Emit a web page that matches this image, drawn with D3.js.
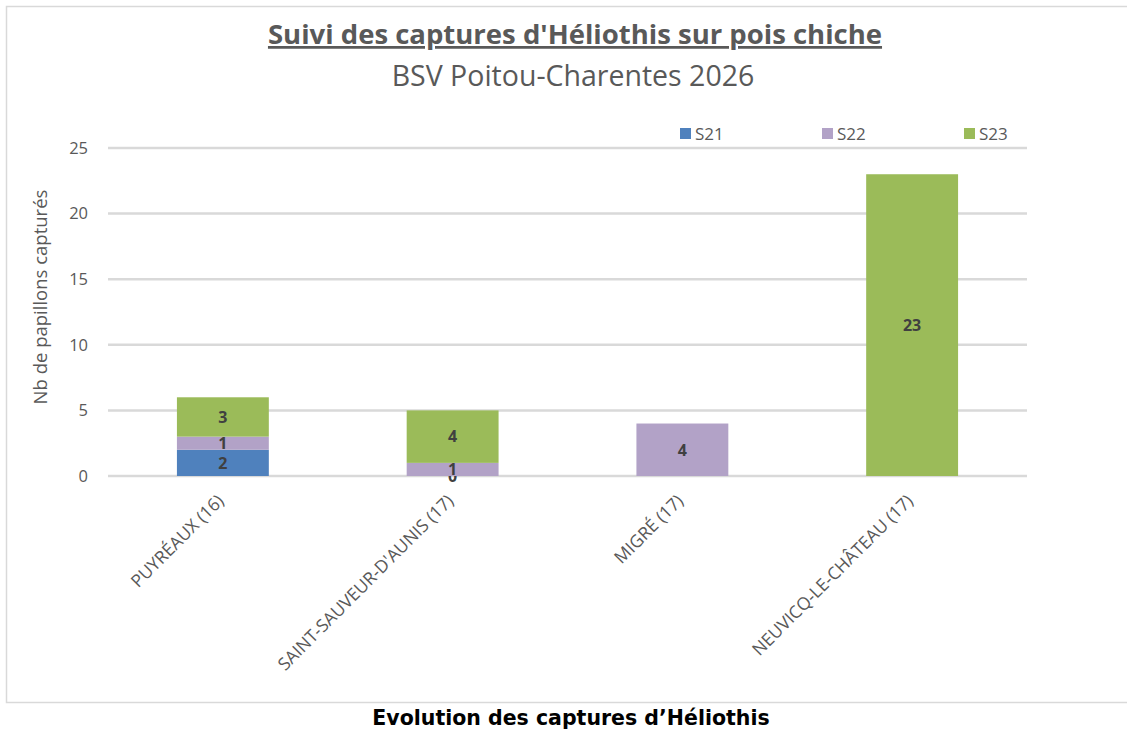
<!DOCTYPE html>
<html>
<head>
<meta charset="utf-8">
<script src="https://cdn.jsdelivr.net/npm/d3@7"></script>
<style>
  body { margin: 0; background: #fff; }
  svg { display: block; }
</style>
</head>
<body>
<svg></svg>
<script>
//Setting
const width = 1127;
const height = 731;

//Data
const sites = ["PUYRÉAUX (16)", "SAINT-SAUVEUR-D'AUNIS (17)", "MIGRÉ (17)", "NEUVICQ-LE-CHÂTEAU (17)"];
const weeks = ["S21", "S22", "S23"];
const s21 = [2, 0, null, null];
const s22 = [1, 1, 4, null];
const s23 = [3, 4, null, 23];
const yTicks = [0, 5, 10, 15, 20, 25];
const colors = ["#4F81BD", "#B2A2C7", "#9BBB59"];

const margin = {top: 148, left: 108, right: 100, bottom: 255};
const font = "'Open Sans', sans-serif";

const svg = d3.select("svg")
            .attr("width", width)
            .attr("height", height);

//Frame
svg.append("rect")
   .attr("x", 6.5).attr("y", 6.5)
   .attr("width", 1130).attr("height", 696)
   .attr("fill", "none")
   .attr("stroke", "#d9d9d9")
   .attr("stroke-width", 1.5);

const x = d3.scaleBand()
            .domain(sites)
            .range([margin.left, width - margin.right])
            .paddingInner(0.6)
            .paddingOuter(0.3);

const y = d3.scaleLinear()
            .domain([0, 25])
            .range([height - margin.bottom, margin.top]);

//Grid
svg.append("g")
   .selectAll("line")
   .data(yTicks)
   .enter()
   .append("line")
   .attr("x1", margin.left)
   .attr("x2", width - margin.right)
   .attr("y1", d => y(d))
   .attr("y2", d => y(d))
   .attr("stroke", "#d9d9d9")
   .attr("stroke-width", 2.5);

svg.append("g")
   .selectAll("text")
   .data(yTicks)
   .enter()
   .append("text")
   .attr("x", margin.left - 20)
   .attr("y", d => y(d))
   .attr("dy", "0.35em")
   .attr("text-anchor", "end")
   .attr("fill", "#595959")
   .style("font-family", font)
   .style("font-size", "16.5px")
   .text(d => d);

svg.append("text")
   .attr("transform", `translate(47, 297) rotate(-90)`)
   .attr("text-anchor", "middle")
   .attr("fill", "#595959")
   .style("font-family", font)
   .style("font-size", "18.5px")
   .text("Nb de papillons capturés");

//Stacks
const rows = sites.map((s, i) => ({site: s, S21: s21[i], S22: s22[i], S23: s23[i]}));
const stack = d3.stack().keys(weeks).value((d, k) => d[k] || 0);
const series = stack(rows);

const layers = svg.append("g")
   .selectAll("g")
   .data(series)
   .enter()
   .append("g")
   .attr("fill", (d, i) => colors[i]);

layers.selectAll("rect")
   .data(d => d.map(p => ({p: p, key: d.key})))
   .enter()
   .filter(d => d.p.data[d.key] !== null)
   .append("rect")
   .attr("x", d => x(d.p.data.site))
   .attr("width", x.bandwidth())
   .attr("y", d => y(d.p[1]))
   .attr("height", d => y(d.p[0]) - y(d.p[1]));

layers.selectAll("text")
   .data(d => d.map(p => ({p: p, key: d.key})))
   .enter()
   .filter(d => d.p.data[d.key] !== null)
   .append("text")
   .attr("x", d => x(d.p.data.site) + x.bandwidth() / 2)
   .attr("y", d => (y(d.p[0]) + y(d.p[1])) / 2)
   .attr("dy", "0.36em")
   .attr("text-anchor", "middle")
   .attr("fill", "#404040")
   .style("font-family", font)
   .style("font-weight", "bold")
   .style("font-size", "16px")
   .text(d => d.p.data[d.key]);

//X labels
svg.append("g")
   .selectAll("text")
   .data(sites)
   .enter()
   .append("text")
   .attr("transform", d => `translate(${x(d) + x.bandwidth() / 2 + 2}, ${y(0) + 26}) rotate(-45)`)
   .attr("text-anchor", "end")
   .attr("fill", "#595959")
   .style("font-family", font)
   .style("font-size", "17.5px")
   .text(d => d);

//Legend
const legend = svg.append("g")
   .selectAll("g")
   .data(weeks)
   .enter()
   .append("g")
   .attr("transform", (d, i) => `translate(${680 + i * 142}, 134)`);

legend.append("rect")
   .attr("x", 0).attr("y", -6)
   .attr("width", 11).attr("height", 11)
   .attr("fill", (d, i) => colors[i]);

legend.append("text")
   .attr("x", 15)
   .attr("dy", "0.35em")
   .attr("fill", "#595959")
   .style("font-family", font)
   .style("font-size", "17px")
   .text(d => d);

//Titles
svg.append("text")
   .attr("x", 575).attr("y", 44)
   .attr("text-anchor", "middle")
   .attr("fill", "#595959")
   .style("font-family", font)
   .style("font-weight", "bold")
   .style("font-size", "27.5px")
   .style("text-decoration", "underline")
   .text("Suivi des captures d'Héliothis sur pois chiche");

svg.append("text")
   .attr("x", 573).attr("y", 86)
   .attr("text-anchor", "middle")
   .attr("fill", "#595959")
   .style("font-family", font)
   .style("font-size", "28.5px")
   .text("BSV Poitou-Charentes 2026");

svg.append("text")
   .attr("x", 571).attr("y", 725)
   .attr("text-anchor", "middle")
   .attr("fill", "#000")
   .style("font-family", "'DejaVu Sans', Verdana, sans-serif")
   .style("font-weight", "bold")
   .style("font-size", "20.5px")
   .text("Evolution des captures d’Héliothis");
</script>
</body>
</html>
